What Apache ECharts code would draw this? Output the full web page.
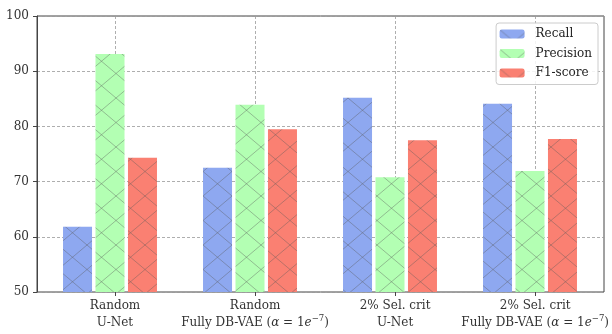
<!DOCTYPE html>
<html><head><meta charset="utf-8">
<script src="https://cdn.jsdelivr.net/npm/echarts@6/dist/echarts.min.js"></script>
<style>html,body{margin:0;padding:0;background:#fff}#c{width:612px;height:334px}</style>
</head><body><div id="c"></div>
<script>
const line1 = ["Random", "Random", "2% Sel. crit", "2% Sel. crit"];
const line2 = ["U-Net", "Fully DB-VAE", "U-Net", "Fully DB-VAE"];
const hasAlpha = [false, true, false, true];
const seriesNames = ["Recall", "Precision", "F1-score"];
const recall = [61.8, 72.5, 85.2, 84.1];
const precision = [93.1, 83.9, 70.8, 71.9];
const f1 = [74.3, 79.5, 77.5, 77.7];
const yTicks = [50, 60, 70, 80, 90, 100];

const SERIF = "'DejaVu Serif', serif";
const TXT = '#333';

function hatch(color) {
  const w = 29, h = 24.5;
  const W = 2 * w, H = 2 * h;
  const c = document.createElement('canvas');
  c.width = W; c.height = H;
  const g = c.getContext('2d');
  g.fillStyle = color; g.fillRect(0, 0, W, H);
  g.strokeStyle = 'rgba(90,90,90,0.4)'; g.lineWidth = 1;
  g.beginPath();
  const m = h / w;
  for (let k = -3; k <= 5; k++) {
    const b = k * h;
    g.moveTo(-2, m * -2 + b); g.lineTo(W + 2, m * (W + 2) + b);
    g.moveTo(-2, -m * -2 + b); g.lineTo(W + 2, -m * (W + 2) + b);
  }
  g.stroke();
  return { image: c, repeat: 'repeat' };
}
const colors = ['#8ea8f0', '#b3ffb3', '#fa8072'];
const values = [recall, precision, f1];

const cats = line1.map((v, i) => i);
const chart = echarts.init(document.getElementById('c'), null, { renderer: 'canvas' });
chart.setOption({
  animation: false,
  backgroundColor: '#fff',
  grid: [
    { left: 37, right: 8, top: 16, bottom: 42, show: true, borderColor: '#444', borderWidth: 1, backgroundColor: 'transparent' },
    { left: 115, right: 75.3, top: 16, bottom: 42 },
    { left: 40, right: 12, top: 16, bottom: 42 }
  ],
  xAxis: [
    { gridIndex: 0, type: 'value', min: 0, max: 1, show: false },
    {
      gridIndex: 1, type: 'category', boundaryGap: false, data: cats,
      axisLine: { show: false },
      axisTick: { show: true, length: 4, lineStyle: { color: '#444' } },
      splitLine: { show: true, lineStyle: { color: '#999', type: [3, 2], width: 0.8 } },
      axisLabel: {
        interval: 0, margin: 5,
        formatter: function (v) {
          const i = +v;
          let s = '{a|' + line1[i] + '}\n{a|' + line2[i];
          if (hasAlpha[i]) s += ' (}{i|α}{a| = 1}{i|e}{s|−7}{a|)}';
          else s += '}';
          return s;
        },
        rich: {
          a: { fontFamily: SERIF, fontSize: 12, lineHeight: 17, color: TXT },
          i: { fontFamily: SERIF, fontSize: 12, fontStyle: 'italic', lineHeight: 17, color: TXT },
          s: { fontFamily: SERIF, fontSize: 8.5, lineHeight: 10, verticalAlign: 'top', color: TXT }
        }
      }
    },
    { gridIndex: 2, type: 'category', data: cats, show: false }
  ],
  yAxis: [
    {
      gridIndex: 0, type: 'value', min: yTicks[0], max: yTicks[yTicks.length - 1], interval: 10,
      axisLine: { show: true, lineStyle: { color: '#444' } },
      axisTick: { show: true, length: 4, lineStyle: { color: '#444' } },
      axisLabel: { margin: 8, fontFamily: SERIF, fontSize: 12, color: TXT },
      splitLine: { show: true, lineStyle: { color: '#999', type: [3, 2], width: 0.8 } }
    },
    { gridIndex: 1, type: 'value', min: 50, max: 100, show: false },
    { gridIndex: 2, type: 'value', min: 50, max: 100, show: false }
  ],
  legend: {
    orient: 'vertical', right: 14, top: 23,
    itemWidth: 25, itemHeight: 9, itemGap: 5.5,
    padding: [4, 6, 4.5, 3.5],
    backgroundColor: 'rgba(255,255,255,0.85)', borderColor: '#ccc', borderWidth: 1, borderRadius: 3,
    textStyle: { fontFamily: SERIF, fontSize: 12, color: '#222', lineHeight: 14, padding: [0, 0, 0, 6] },
    data: seriesNames
  },
  series: seriesNames.map((n, k) => ({
    name: n, type: 'bar', xAxisIndex: 2, yAxisIndex: 2,
    barWidth: 29, barGap: '12%',
    itemStyle: { color: hatch(colors[k]) },
    data: values[k]
  }))
});
</script></body></html>
